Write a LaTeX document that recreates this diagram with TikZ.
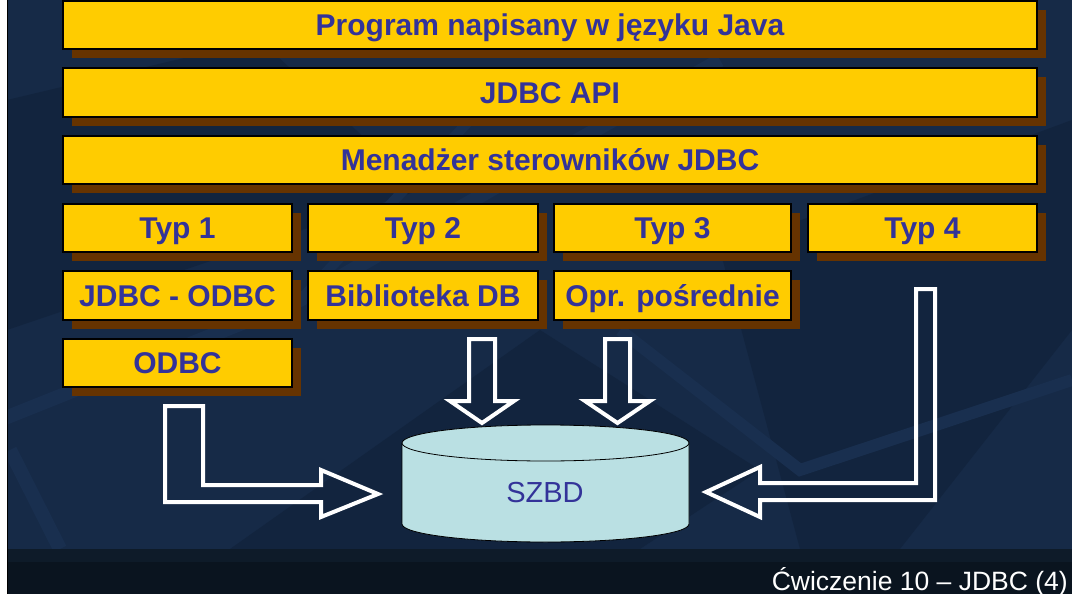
\documentclass[tikz,border=0pt]{standalone}
\usepackage{fontspec}
\setmainfont{Liberation Sans}
\usetikzlibrary{shadows}
\definecolor{navy}{HTML}{162A47}
\definecolor{deep}{HTML}{12243E}
\definecolor{glow}{HTML}{192F4F}
\definecolor{footA}{HTML}{0E1B29}
\definecolor{footB}{HTML}{0A141F}
\definecolor{gold}{HTML}{FFCC00}
\definecolor{shade}{HTML}{663300}
\definecolor{ink}{HTML}{333399}
\definecolor{disk}{HTML}{BAE0E3}

\begin{document}
\begin{tikzpicture}[x=1pt,y=-1pt,
  layer/.style={draw=black,line width=1.3pt,fill=gold,text=ink,inner sep=0pt,
    font=\fontsize{30}{34}\selectfont\bfseries,text height=21.5pt,text depth=0pt,
    drop shadow={shadow xshift=9pt,shadow yshift=-9pt,fill=shade,opacity=1}},
  hollow/.style={draw=white,line width=4pt,line join=miter}]
  \path[use as bounding box] (0,0) rectangle (1072,594);
  % slide background with its faint diagonal pattern
  \fill[navy] (7,0) rectangle (1072,549);
  \begin{scope}
    \clip (7,0) rectangle (1072,549);
    \fill[deep] (7,100) -- (260,40) -- (420,190) -- (7,330) -- cycle;
    \fill[deep] (230,549) -- (540,330) -- (760,470) -- (640,549) -- cycle;
    \fill[deep] (720,250) -- (1072,120) -- (1072,330) -- (900,549) -- (800,549) -- cycle;
    \draw[glow,line width=14pt] (0,420) -- (300,300) -- (560,150) -- (720,60);
    \draw[glow,line width=14pt] (60,549) -- (10,450);
    \draw[glow,line width=10pt] (300,300) -- (470,120);
    \draw[glow,line width=12pt] (620,330) -- (800,470) -- (1072,380);
  \end{scope}
  \fill[white] (0,0) rectangle (7,594);
  \fill[footA] (7,549) rectangle (1072,562);
  \fill[footB] (7,562) rectangle (1072,594);
  \draw[black,line width=.8pt] (7,0) -- (7,594);

  % driver stack
  \foreach \name/\x/\y/\w/\h/\txt in {
    prog/550/25/974/48/{Program napisany w języku Java},
    api/550/92.5/974/49/{JDBC API},
    mgr/550/160/974/48/{Menadżer sterowników JDBC},
    typ1/177.5/228/229/48/{Typ 1},typ2/423/228/230/48/{Typ 2},
    typ3/672.5/228/237/48/{Typ 3},typ4/922.5/228/229/48/{Typ 4},
    jo/177.5/295.5/229/49/{JDBC - ODBC},bib/423/295.5/230/49/{Biblioteka DB},
    opr/672.5/295.5/237/49/{Opr. pośrednie},
    odbc/177.5/363/229/48/{ODBC}}{
    \node[layer,minimum width=\w,minimum height=\h] (\name) at (\x,\y) {\txt};
  }

  % database
  \path[fill=disk,draw=black,line width=.8pt] (402,443) -- (402,524)
    arc[start angle=180,end angle=0,x radius=143.5,y radius=18] -- (689,443);
  \draw[fill=disk,line width=.8pt] (545.5,443) ellipse[x radius=143.5,y radius=18];
  \node[text=ink,font=\fontsize{29}{33}\selectfont,text height=21pt,text depth=0pt] (db) at (545,492) {SZBD};

  % hollow block arrows into the database
  \draw[hollow] (469,339) -- (495,339) -- (495,401) -- (514,401) -- (482,423)
    -- (450,401) -- (469,401) -- cycle;
  \draw[hollow] (605,339) -- (630,339) -- (630,401) -- (650,401) -- (617.5,423)
    -- (585,401) -- (605,401) -- cycle;
  \draw[hollow] (165,406) -- (203,406) -- (203,485) -- (321,485) -- (321,470)
    -- (378,494) -- (321,517) -- (321,502) -- (165,502) -- cycle;
  \draw[hollow] (935,289) -- (916,289) -- (916,483) -- (760,483) -- (760,467)
    -- (706,492) -- (760,517) -- (760,500) -- (935,500) -- cycle;

  \node[anchor=base east,inner sep=0pt,text=white,font=\fontsize{26.5}{30}\selectfont] (foot) at (1068,590) {Ćwiczenie 10 – JDBC (4)};
\end{tikzpicture}
\end{document}
